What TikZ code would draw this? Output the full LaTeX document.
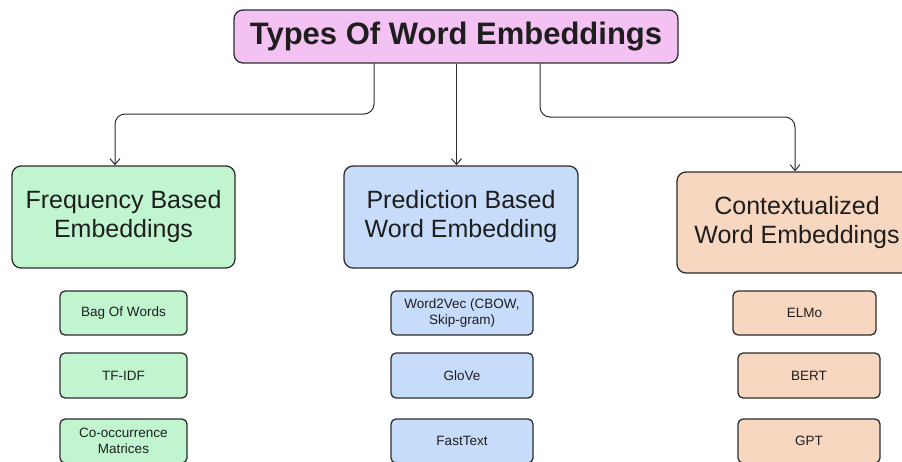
\documentclass[tikz,border=0pt]{standalone}
\usepackage{fontspec}
\setmainfont{Liberation Sans}
\usetikzlibrary{arrows.meta}
\definecolor{linegray}{RGB}{45,45,45}
\definecolor{textgray}{RGB}{30,30,30}
\definecolor{pinkfill}{RGB}{243,194,243}
\definecolor{greenfill}{RGB}{193,245,208}
\definecolor{bluefill}{RGB}{199,219,250}
\definecolor{orangefill}{RGB}{247,215,192}
\begin{document}
\begin{tikzpicture}[x=1pt,y=-1pt,
  box/.style={draw=linegray, line width=1.3pt, rounded corners=9pt, align=center,
    inner sep=0pt, text=textgray},
  head/.style={box, font=\fontsize{25}{29}\selectfont, minimum height=102pt},
  item/.style={box, rounded corners=5pt, font=\fontsize{13.5}{15.5}\selectfont,
    minimum height=44pt},
  link/.style={draw=linegray, line width=1pt, rounded corners=10pt,
    -{Straight Barb[length=6pt,width=10pt,line width=1pt]}}]
\useasboundingbox (0,0) rectangle (902,461);
\clip (0,0) rectangle (902,461);

% title
\node[box, fill=pinkfill, font=\bfseries\fontsize{31}{35}\selectfont,
  minimum width=444pt, minimum height=53pt] (title) at (456,36.5) {Types Of Word Embeddings};

% category boxes
\node[head, fill=greenfill, minimum width=223pt] (fb) at (123.5,217)
  {Frequency Based\\Embeddings};
\node[head, fill=bluefill, minimum width=234pt] (pb) at (461,217)
  {Prediction Based\\Word Embedding};
\node[head, fill=orangefill, minimum width=240pt, minimum height=101pt] (cw) at (797,222.5)
  {Contextualized\\Word Embeddings};

% frequency based methods
\node[item, fill=greenfill, minimum width=127pt] (bow) at (123.5,313) {Bag Of Words};
\node[item, fill=greenfill, minimum width=127pt, minimum height=45pt] (tfidf) at (123.5,375.5) {TF-IDF};
\node[item, fill=greenfill, minimum width=127pt] (cooc) at (123.5,441) {Co-occurrence\\Matrices};

% prediction based methods
\node[item, fill=bluefill, minimum width=142pt] (w2v) at (462,313) {Word2Vec (CBOW,\\Skip-gram)};
\node[item, fill=bluefill, minimum width=142pt, minimum height=45pt] (glove) at (462,375.5) {GloVe};
\node[item, fill=bluefill, minimum width=142pt] (ft) at (462,441) {FastText};

% contextual methods
\node[item, fill=orangefill, minimum width=143pt] (elmo) at (804.5,313) {ELMo};
\node[item, fill=orangefill, minimum width=142pt, minimum height=45pt] (bert) at (809,375.5) {BERT};
\node[item, fill=orangefill, minimum width=142pt] (gpt) at (809,441) {GPT};

% connectors
\coordinate (l1) at (374,114);
\coordinate (l2) at (115,114);
\coordinate (m) at (456.5,0);
\coordinate (r1) at (540,117);
\coordinate (r2) at (795,117);
\draw[link] (title.south -| l1) -- (l1) -- (l2) -- (l2 |- fb.north);
\draw[link] (title.south -| m) -- (pb.north -| m);
\draw[link] (title.south -| r1) -- (r1) -- (r2) -- (r2 |- cw.north);
\end{tikzpicture}
\end{document}
